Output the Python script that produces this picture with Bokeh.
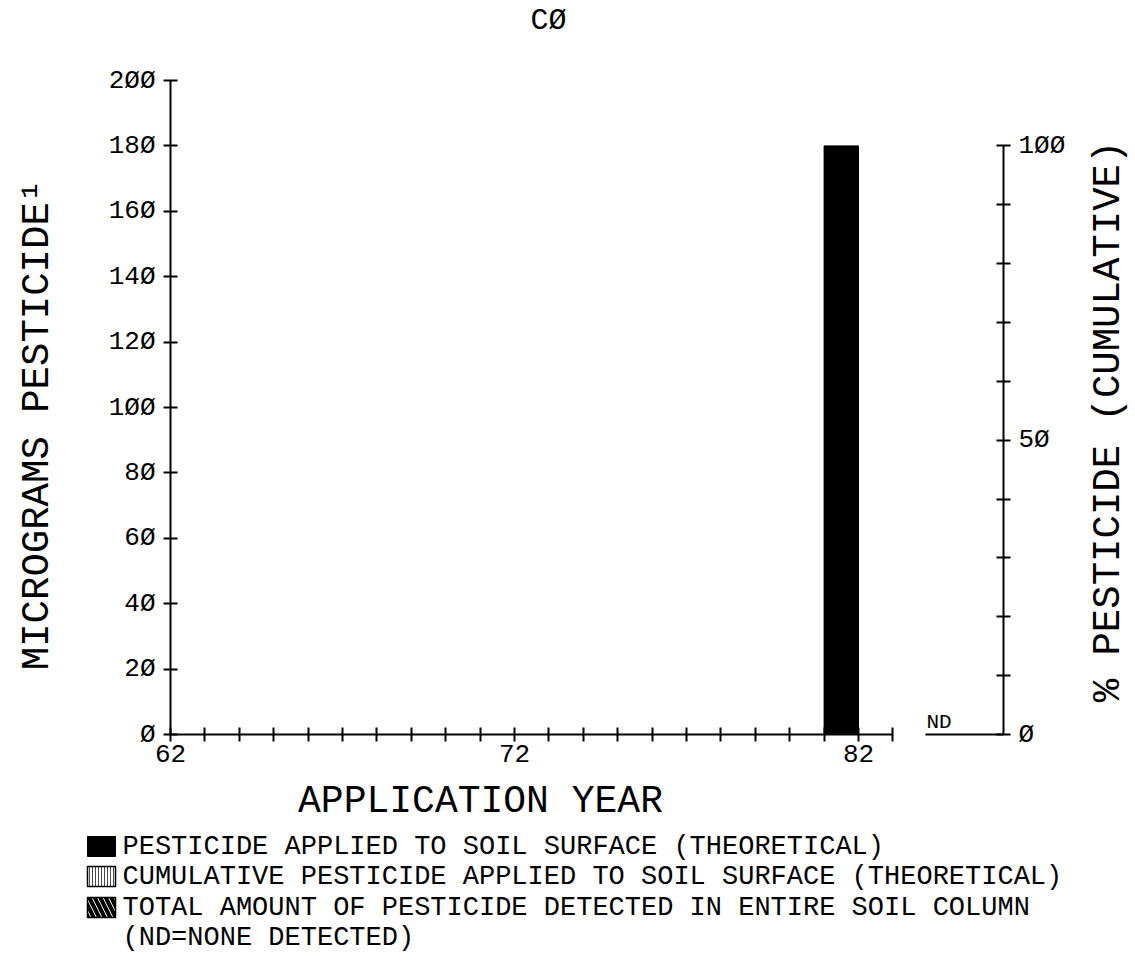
import math
from bokeh.plotting import figure
from bokeh.models import Range1d, LinearAxis, FixedTicker
from bokeh.embed import file_html
from bokeh.resources import INLINE
from bokeh.core.properties import value

# ---------------- data ----------------
title_text = "CØ"
years = list(range(62, 84))
labelled_years = [62, 72, 82]
application_years = [82]
applied_ug = [180]
cumulative_pct = [100]
detected_labels = ["ND"]
y_ticks = list(range(0, 201, 20))
pct_ticks = list(range(0, 101, 10))
pct_labelled = [0, 50, 100]
x_label = "APPLICATION YEAR"
y_label = "MICROGRAMS PESTICIDE¹"
pct_label = "% PESTICIDE (CUMULATIVE)"
legend_texts = [
    "PESTICIDE APPLIED TO SOIL SURFACE (THEORETICAL)",
    "CUMULATIVE PESTICIDE APPLIED TO SOIL SURFACE (THEORETICAL)",
    "TOTAL AMOUNT OF PESTICIDE DETECTED IN ENTIRE SOIL COLUMN",
    "(ND=NONE DETECTED)",
]

FONT = "Liberation Mono"


def slashed(v):
    return str(v).replace("0", "Ø")


# ---------------- geometry (canvas pixels) ----------------
W, H = 1130, 960
AXIS_X_PX, AXIS_Y_PX = 170, 734          # where year 62 / value 0 sit
PX_PER_YEAR = 34.4
PX_PER_UG = 654 / 200
Y_MAX = 200
RIGHT_AXIS_PX = 1003

X_START = years[0] - AXIS_X_PX / PX_PER_YEAR
X_END = years[0] + (W - AXIS_X_PX) / PX_PER_YEAR
Y_START = -(H - AXIS_Y_PX) / PX_PER_UG
Y_END = AXIS_Y_PX / PX_PER_UG
PCT_PER_UG = 100 / sum(applied_ug)


def dx(px):
    return X_START + px / PX_PER_YEAR


def dy(py):
    return Y_END - py / PX_PER_UG


RIGHT_AXIS_X = dx(RIGHT_AXIS_PX)

p = figure(frame_width=W, frame_height=H, min_border=0,
           x_range=Range1d(X_START, X_END), y_range=Range1d(Y_START, Y_END),
           x_axis_type=None, y_axis_type=None, title=None,
           output_backend="svg", toolbar_location=None)
p.outline_line_color = None
p.background_fill_color = "white"
p.extra_y_ranges = {"pct": Range1d(Y_START * PCT_PER_UG, Y_END * PCT_PER_UG)}


def style_axis(ax):
    ax.axis_line_width = 2
    ax.axis_line_color = "black"
    ax.major_tick_line_width = 2
    ax.major_tick_line_color = "black"
    ax.major_tick_in = 7
    ax.major_tick_out = 7
    ax.minor_tick_line_color = None
    ax.major_label_text_font = FONT
    ax.major_label_text_font_size = "26px"
    ax.major_label_text_color = "black"


xa = LinearAxis(ticker=FixedTicker(ticks=years), bounds=(years[0], years[-1]),
                fixed_location=0,
                major_label_overrides={y: (str(y) if y in labelled_years else "") for y in years})
style_axis(xa)
xa.major_label_standoff = 3
p.add_layout(xa, "below")

ya = LinearAxis(ticker=FixedTicker(ticks=y_ticks), bounds=(0, Y_MAX),
                fixed_location=years[0],
                major_label_overrides={t: slashed(t) for t in y_ticks})
style_axis(ya)
ya.major_label_standoff = 8
p.add_layout(ya, "left")

ra = LinearAxis(y_range_name="pct", ticker=FixedTicker(ticks=pct_ticks), bounds=(0, 100),
                fixed_location=RIGHT_AXIS_X,
                major_label_overrides={t: (slashed(t) if t in pct_labelled else "") for t in pct_ticks})
style_axis(ra)
ra.major_label_standoff = 8
p.add_layout(ra, "right")

# cumulative bar (percent scale), hidden under the applied bar
p.quad(left=[y - 1 for y in application_years], right=application_years,
       bottom=0, top=cumulative_pct, y_range_name="pct",
       fill_color="white", hatch_pattern="|", hatch_color="black", hatch_scale=3,
       line_color=None)
# applied bar
p.quad(left=[y - 1 for y in application_years], right=application_years,
       bottom=0, top=applied_ug, fill_color="black", line_color="black")

# detected: none detected -> baseline with ND
p.segment(x0=[dx(925)], x1=[RIGHT_AXIS_X], y0=[0], y1=[0], line_color="black", line_width=2)
p.text(x=[dx(926)], y=[dy(722)], text=detected_labels, text_font=value(FONT),
       text_font_size="21px", text_baseline="middle", text_align="left", text_color="black")

# titles and axis labels
p.text(x=[dx(548)], y=[dy(20)], text=[title_text], text_font=value(FONT),
       text_font_size="30px", text_align="center", text_baseline="middle", text_color="black")
p.text(x=[dx(480)], y=[dy(801)], text=[x_label], text_font=value(FONT),
       text_font_size="38px", text_align="center", text_baseline="middle", text_color="black")
p.text(x=[dx(37)], y=[dy(424)], text=[y_label], text_font=value(FONT), angle=math.pi / 2,
       text_font_size="39px", text_align="center", text_baseline="middle", text_color="black")
p.text(x=[dx(1108)], y=[dy(421)], text=[pct_label], text_font=value(FONT), angle=math.pi / 2,
       text_font_size="39px", text_align="center", text_baseline="middle", text_color="black")

# ---------------- legend ----------------
row_px = [846, 876, 907, 937]
sw_l, sw_r, sw_half = dx(87), dx(115), 10 / PX_PER_UG
rows = [dy(r) for r in row_px]
p.quad(left=[sw_l], right=[sw_r], top=[rows[0] + sw_half], bottom=[rows[0] - sw_half],
       fill_color="black", line_color="black")
p.quad(left=[sw_l], right=[sw_r], top=[rows[1] + sw_half], bottom=[rows[1] - sw_half],
       fill_color="white", hatch_pattern="|", hatch_color="black", hatch_scale=3,
       hatch_alpha=0.7, line_color="black", line_width=1.5)
p.quad(left=[sw_l], right=[sw_r], top=[rows[2] + sw_half], bottom=[rows[2] - sw_half],
       fill_color="white", hatch_pattern="\\", hatch_color="black", hatch_scale=11,
       hatch_weight=4, line_color="black", line_width=1.5)
p.text(x=[dx(122)] * len(legend_texts), y=rows, text=legend_texts, text_font=value(FONT),
       text_font_size="27px", text_baseline="middle", text_align="left", text_color="black")

open("out.html", "w").write(file_html(p, INLINE))
